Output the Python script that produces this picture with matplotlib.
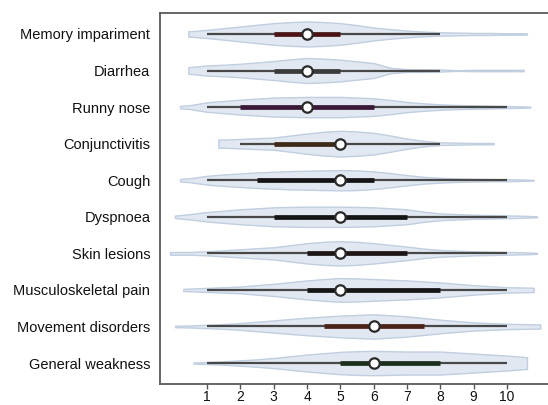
import numpy as np
import matplotlib
matplotlib.use("Agg")
import matplotlib.pyplot as plt

plt.rcParams['font.family'] = ['Liberation Sans', 'DejaVu Sans']

symptoms = ["Memory impariment", "Diarrhea", "Runny nose", "Conjunctivitis", "Cough",
            "Dyspnoea", "Skin lesions", "Musculoskeletal pain", "Movement disorders",
            "General weakness"]
whisker_lo = [1, 1, 1, 2, 1, 1, 1, 1, 1, 1]
whisker_hi = [8, 8, 10, 8, 10, 10, 10, 10, 10, 10]
q1 = [3, 3, 2, 3, 2.5, 3, 4, 4, 4.5, 5]
q3 = [5, 5, 6, 5, 6, 7, 7, 8, 7.5, 8]
median = [4, 4, 4, 5, 5, 5, 5, 5, 6, 6]
iqr_colors = ["#4a1414", "#3a3a3a", "#3a1838", "#3e2a18", "#151515",
              "#151515", "#1e1616", "#151515", "#4a2218", "#1c2e1c"]

# violin extent (start, end) and half-width profile read at x = 0, 0.5, ..., 11
violin_start = [0.44, 0.44, 0.19, 1.34, 0.19, 0.04, -0.11, 0.29, 0.04, 0.59]
violin_end = [10.6, 10.5, 10.7, 9.6, 10.8, 10.9, 10.9, 10.8, 11.0, 10.6]
grid_x = [0, 0.5, 1, 1.5, 2, 2.5, 3, 3.5, 4, 4.5, 5, 5.5, 6, 6.5, 7, 7.5, 8, 8.5, 9, 9.5, 10, 10.5, 11]
profiles = [
    [8, 8, 12, 17, 22, 27, 32, 35, 37, 35, 32, 26, 19, 14, 10, 7, 5, 4, 3, 3, 2, 2, 0],
    [10, 10, 15, 17, 20, 24, 28, 33, 37, 35, 32, 27, 22, 8, 4, 4, 3, 1, 2, 2, 2, 2, 0],
    [2, 6, 14, 18, 22, 25, 28, 29, 30, 30, 30, 28, 26, 21, 15, 11, 8, 6, 5, 4, 3, 2, 0],
    [12, 12, 12, 12, 14, 16, 18, 24, 30, 35, 38, 36, 32, 24, 15, 8, 4, 3, 2, 2, 0, 0, 0],
    [2, 6, 13, 17, 20, 23, 25, 27, 28, 29, 30, 29, 26, 21, 15, 10, 7, 5, 4, 3, 3, 2, 0],
    [3, 8, 14, 18, 22, 25, 28, 29, 30, 30, 30, 29, 28, 25, 22, 15, 10, 8, 6, 5, 4, 3, 1],
    [4, 4, 6, 9, 12, 15, 18, 24, 30, 34, 36, 34, 30, 25, 20, 14, 10, 8, 6, 5, 4, 3, 1],
    [2, 4, 6, 8, 10, 14, 18, 23, 28, 32, 35, 34, 32, 30, 28, 25, 22, 18, 14, 11, 8, 7, 6],
    [2, 3, 5, 7, 10, 14, 18, 22, 26, 29, 32, 34, 36, 33, 30, 25, 20, 16, 12, 10, 8, 7, 6],
    [1, 1, 3, 5, 8, 11, 15, 20, 25, 29, 33, 35, 36, 35, 34, 34, 34, 31, 28, 25, 22, 18, 16],
]
PX_TO_UNITS = 1 / 108.0

fig = plt.figure(figsize=(5.48, 4.05), dpi=100)
ax = fig.add_axes([160 / 548, 21 / 405, 400 / 548, 371 / 405])

gx = np.array(grid_x, dtype=float)
for i in range(len(symptoms)):
    prof = np.array(profiles[i], dtype=float) * PX_TO_UNITS
    s, e = violin_start[i], violin_end[i]
    mask = (gx > s) & (gx < e)
    xs = np.concatenate([[s], gx[mask], [e]])
    ws = np.concatenate([[np.interp(s, gx, prof)], prof[mask], [np.interp(e, gx, prof)]])
    ws[0] = min(ws[0], ws[1])
    ax.fill_between(xs, i - ws, i + ws, facecolor="#e1e8f1", edgecolor="#c0cee0",
                    linewidth=1.0, zorder=1)
    ax.plot([whisker_lo[i], whisker_hi[i]], [i, i], color="#484848", lw=1.6,
            solid_capstyle="butt", zorder=2)
    ax.plot([q1[i], q3[i]], [i, i], color=iqr_colors[i], lw=3.4,
            solid_capstyle="butt", zorder=3)
    ax.plot([median[i]], [i], marker="o", markersize=7.5, markerfacecolor="white",
            markeredgecolor="#2a2a2a", markeredgewidth=1.6, zorder=4)

ax.set_xlim(-0.41, 11.59)
ax.set_ylim(9.573, -0.573)
ax.set_yticks(range(len(symptoms)))
ax.set_yticklabels(symptoms, fontsize=10.5, color="#111111")
ax.set_xticks(range(1, 11))
ax.set_xticklabels([str(v) for v in range(1, 11)], fontsize=10, color="#111111")
ax.tick_params(axis="y", length=0, pad=7)
ax.tick_params(axis="x", length=3.5, width=1.0, color="#555555", pad=0.5)
for side in ["left", "bottom", "top"]:
    ax.spines[side].set_color("#5a5a5a")
    ax.spines[side].set_linewidth(1.3)
ax.spines["right"].set_visible(False)

fig.savefig("out.png", dpi=100)
